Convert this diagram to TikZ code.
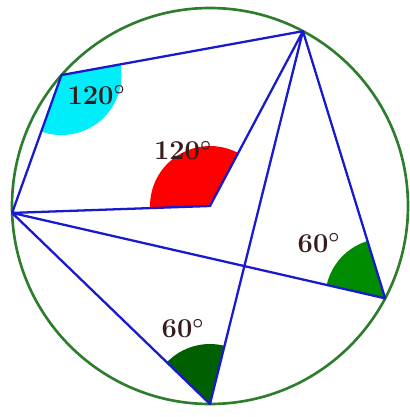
\documentclass[tikz,border=0pt]{standalone}
\usepackage{tikz}
\usetikzlibrary{angles,calc}
\definecolor{segblue}{RGB}{25,25,205}
\definecolor{ringgreen}{RGB}{45,125,45}
\definecolor{fillgreen}{RGB}{0,140,0}
\definecolor{filldark}{RGB}{0,95,0}
\definecolor{fillcyan}{RGB}{0,238,250}
\definecolor{degtext}{RGB}{55,28,28}

\begin{document}
\begin{tikzpicture}[x=0.02cm, y=0.02cm,
    seg/.style={draw=segblue, line width=1.3pt, line join=round},
    wedge/.style={angle radius=1.2cm},
    deg/.style={font=\fontsize{15.5}{17}\selectfont\bfseries\boldmath, text=degtext, anchor=base, inner sep=0pt}]
    \useasboundingbox (0,0) rectangle (410,417);

    \coordinate (o) at (210,211);
    \coordinate (p) at ($(o)+(62:198)$);
    \coordinate (q) at ($(o)+(138.6:198)$);
    \coordinate (l) at ($(o)+(182:198)$);
    \coordinate (r) at ($(o)+(-27.8:198)$);
    \coordinate (b) at ($(o)+(-90:198)$);

    \draw[ringgreen, line width=1.5pt] (o) circle (198);

    \pic[wedge, fill=fillcyan] {angle=l--q--p};
    \pic[wedge, fill=red] {angle=p--o--l};
    \pic[wedge, fill=fillgreen] {angle=p--r--l};
    \pic[wedge, fill=filldark] {angle=p--b--l};

    \draw[seg] (p) -- (q) -- (l) -- (o) -- (p) -- (r) -- (l) -- (b) -- (p);

    \node[deg] (degq) at (96.5,313) {120$^\circ$};
    \node[deg] (dego) at (183,257) {120$^\circ$};
    \node[deg] (degr) at (319,165) {60$^\circ$};
    \node[deg] (degb) at (183,79) {60$^\circ$};
\end{tikzpicture}
\end{document}
